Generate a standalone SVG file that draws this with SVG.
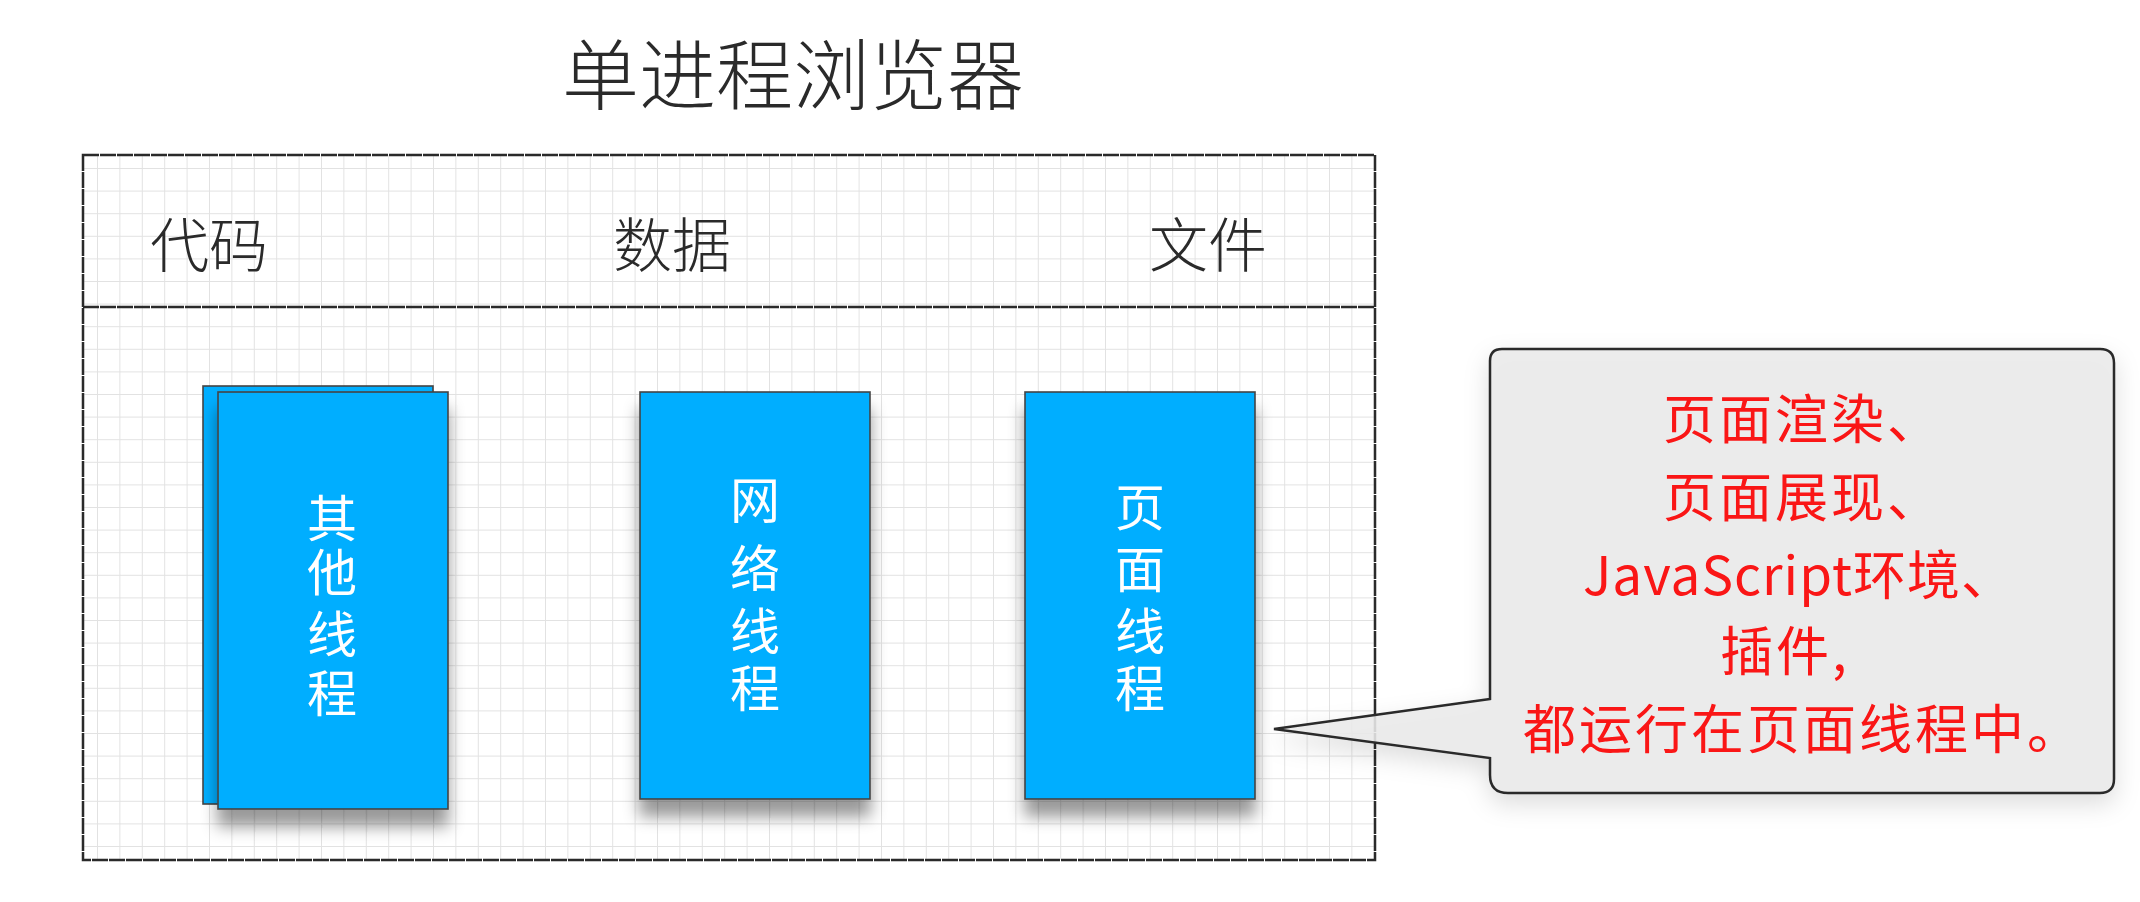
<svg xmlns="http://www.w3.org/2000/svg" width="2140" height="902" viewBox="0 0 2140 902">
<style>
text{font-family:"Noto Sans CJK SC","Noto Sans",sans-serif;text-anchor:middle;dominant-baseline:central}
.title{font-size:77px;fill:#2a2a2a;font-weight:300}
.head{font-size:59px;fill:#2a2a2a;font-weight:300}
.white{font-size:50px;fill:#fff}
.red{font-size:53px;fill:#fa1414;letter-spacing:3px}
.sk{fill:none;stroke:#2b2b2b;stroke-width:2.5;stroke-dasharray:16 1}
.blue{fill:#00aeff;stroke:#444;stroke-width:1.6}
</style>
<defs>
<pattern id="grid" x="97" y="168" width="22.4" height="22.6" patternUnits="userSpaceOnUse">
<path d="M0 0V22.6M0 0H22.4" fill="none" stroke="#e2e2e2" stroke-width="2"/>
</pattern>
<filter id="sh" x="-20%" y="-10%" width="140%" height="125%">
<feDropShadow dx="0" dy="17" stdDeviation="8" flood-color="#000" flood-opacity=".4"/>
</filter>
<filter id="shc" x="-10%" y="-10%" width="120%" height="125%">
<feDropShadow dx="0" dy="10" stdDeviation="12" flood-color="#000" flood-opacity=".15"/>
</filter>
<filter id="soft" x="-2%" y="-2%" width="104%" height="104%"><feGaussianBlur stdDeviation=".7"/></filter>
</defs>
<rect width="2140" height="902" fill="#fff"/>
<g filter="url(#soft)">
<g id="browser">
<rect x="83" y="155" width="1292" height="705" fill="url(#grid)"/>
<rect class="sk" x="83" y="155" width="1292" height="705"/>
<line class="sk" x1="83" y1="307" x2="1375" y2="307"/>
</g>
<g id="title"><text class="title" x="793" y="70">单进程浏览器</text></g>
<g id="code"><text class="head" x="209" y="241">代码</text></g>
<g id="data"><text class="head" x="672" y="241">数据</text></g>
<g id="file"><text class="head" x="1208" y="241">文件</text></g>
<g id="other-thread">
<rect class="blue" x="203" y="386" width="230" height="418"/>
<rect class="blue" x="218" y="392" width="230" height="417" filter="url(#sh)"/>
<text class="white"><tspan x="332" y="515">其</tspan><tspan x="332" y="569">他</tspan><tspan x="332" y="631">线</tspan><tspan x="332" y="690">程</tspan></text>
</g>
<g id="network-thread">
<rect class="blue" x="640" y="392" width="230" height="407" filter="url(#sh)"/>
<text class="white"><tspan x="755" y="497">网</tspan><tspan x="755" y="565">络</tspan><tspan x="755" y="628">线</tspan><tspan x="755" y="685">程</tspan></text>
</g>
<g id="page-thread">
<rect class="blue" x="1025" y="392" width="230" height="407" filter="url(#sh)"/>
<text class="white"><tspan x="1140" y="504">页</tspan><tspan x="1140" y="566">面</tspan><tspan x="1140" y="628">线</tspan><tspan x="1140" y="685">程</tspan></text>
</g>
<g id="callout">
<path d="M1490 699L1274 729L1490 758V775Q1490 793 1508 793H2100Q2114 793 2114 779V363Q2114 349 2100 349H1502Q1490 349 1490 361Z" fill="#ebebeb" fill-opacity=".88" stroke="#2b2b2b" stroke-width="2.5" filter="url(#shc)"/>
<text class="red" x="1803" y="416">页面渲染、</text>
<text class="red" x="1803" y="494">页面展现、</text>
<text class="red" x="1799" y="572" style="letter-spacing:1px">JavaScript环境、</text>
<text class="red" x="1785" y="648">插件,</text>
<text class="red" x="1803" y="726">都运行在页面线程中。</text>
</g>
</g>
<g id="connectors"/>
</svg>
